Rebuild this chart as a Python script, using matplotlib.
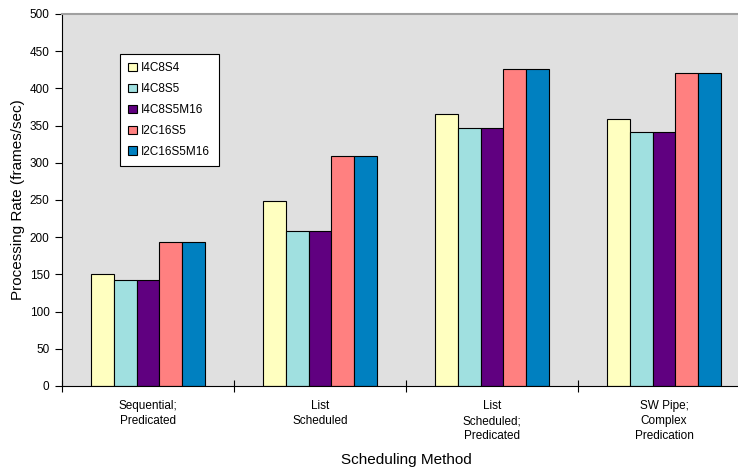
import matplotlib.pyplot as plt
import numpy as np

plt.rcParams['font.family'] = ['Liberation Sans', 'DejaVu Sans']

methods = ['Sequential;\nPredicated', 'List\nScheduled', 'List\nScheduled;\nPredicated',
           'SW Pipe;\nComplex\nPredication']
configs = ['I4C8S4', 'I4C8S5', 'I4C8S5M16', 'I2C16S5', 'I2C16S5M16']
colors = ['#FFFFC0', '#A0E0E0', '#600080', '#FF8080', '#0080C0']
rates = [
    [150, 248, 366, 359],
    [142, 209, 347, 342],
    [142, 209, 347, 342],
    [193.5, 309.5, 425.5, 421],
    [193.5, 309.5, 425.5, 421],
]

fig = plt.figure(figsize=(7.38, 4.71), dpi=100)
# axes run past the right edge of the image like the original
ax = fig.add_axes([62/738, 1 - 386/471, 688/738, 372/471])
ax.set_facecolor('#E0E0E0')

x = np.arange(len(methods))
w = 0.1326
for i, (cfg, col) in enumerate(zip(configs, colors)):
    ax.bar(x + (i - 2) * w, rates[i], w, color=col, edgecolor='black',
           linewidth=0.8, label=cfg)

ax.set_xlim(-0.5, len(methods) - 0.5)
ax.set_ylim(0, 500)
ax.set_yticks(range(0, 501, 50))
ax.tick_params(axis='y', labelsize=8.5, length=5, direction='out', pad=4)

ax.set_xticks(np.arange(len(methods) + 1) - 0.5)
ax.set_xticklabels([])
ax.tick_params(axis='x', which='major', direction='inout', length=8)
ax.set_xticks(x, minor=True)
ax.set_xticklabels(methods, minor=True, fontsize=8.5, linespacing=1.35)
ax.tick_params(axis='x', which='minor', length=0, pad=10)

for s in ['left', 'bottom']:
    ax.spines[s].set_color('black')
ax.spines['top'].set_color('#A0A0A0')
ax.spines['top'].set_linewidth(1.5)
ax.spines['right'].set_visible(False)

ax.set_ylabel('Processing Rate (frames/sec)', fontsize=11, va='center')
ax.yaxis.set_label_coords(-44/688, 0.5)
ax.set_xlabel('Scheduling Method', fontsize=11, va='center')
ax.xaxis.set_label_coords(344/688, -74/372)

leg = ax.legend(loc='upper left', bbox_to_anchor=(58/688, 1 - 40/372), fontsize=8.5,
                fancybox=False, edgecolor='black', framealpha=1, borderaxespad=0,
                handlelength=0.7, handleheight=0.7, handletextpad=0.4,
                labelspacing=0.75, borderpad=0.7)
leg.get_frame().set_linewidth(0.8)

fig.savefig('out.png', dpi=100)
